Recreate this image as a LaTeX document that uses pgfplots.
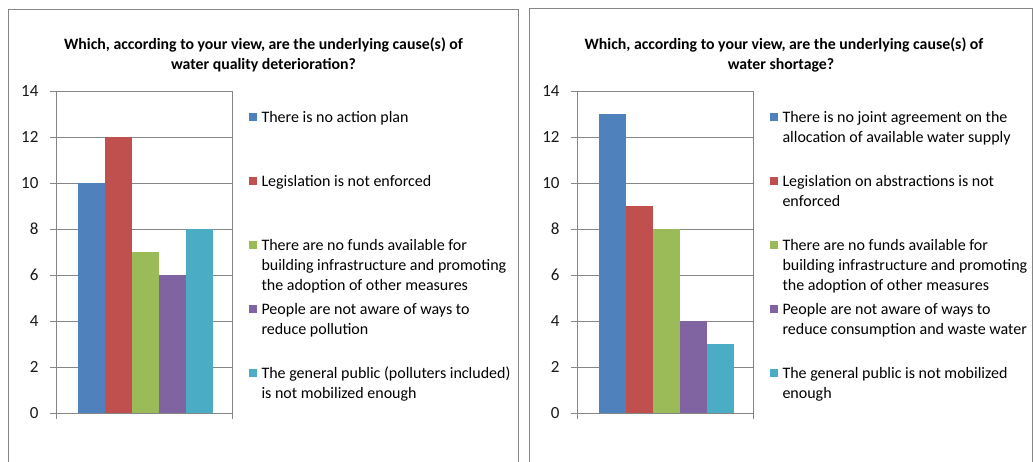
\documentclass[border=0pt]{standalone}
\usepackage{fontspec}
\setmainfont{Carlito}
\usepackage{pgfplots}
\pgfplotsset{compat=1.18}
\definecolor{c1}{HTML}{4F81BD}
\definecolor{c2}{HTML}{C0504D}
\definecolor{c3}{HTML}{9BBB59}
\definecolor{c4}{HTML}{8064A2}
\definecolor{c5}{HTML}{4BACC6}
\definecolor{axgray}{RGB}{134,134,134}
\pgfplotsset{
 panel/.style={
  scale only axis, width=176bp, height=322bp,
  xmin=-88, xmax=88, ymin=0, ymax=14,
  ytick={0,2,...,14}, xtick={-88,88}, xticklabels={},
  ymajorgrids, grid style={axgray, line width=0.8bp},
  axis line style={axgray, line width=0.8bp},
  tick style={axgray, line width=0.8bp},
  major tick length=6bp,
  tick align=outside, xtick pos=bottom, ytick pos=left,
  ybar=0pt, bar width=27bp,
  /pgf/number format/assume math mode=true,
  yticklabel style={font=\fontsize{17bp}{19bp}\selectfont, text=black!90, xshift=-8bp},
  legend style={draw=none, fill=none, inner sep=0pt, outer sep=0pt,
    at={(1.0966,0.9307)}, anchor=north west, row sep=54.5bp, column sep=4.5bp,
    font=\fontsize{16bp}{20bp}\selectfont,
    nodes={inner sep=0pt, text height=0pt, text depth=0pt}},
  legend cell align=left,
 },
 sq/.style={draw=none, legend image code/.code={\fill[##1,draw=none] (0bp,1.5bp) rectangle (8bp,9bp);}},
}
\newcommand{\lt}[1]{\parbox[t]{270bp}{\raggedright #1}}
\begin{document}
\begin{tikzpicture}[x=1bp,y=1bp]
\useasboundingbox (0,0) rectangle (1033,462);
\fill[white] (0,0) rectangle (1033,462);
\draw[axgray, line width=0.8bp] (8,-2) -- (8,453) -- (518,453) -- (518,-2);
\draw[axgray, line width=0.8bp] (529,-2) -- (529,454) -- (1032.5,454) -- (1032.5,-2);
\begin{scope}[font=\bfseries\fontsize{15.8bp}{18bp}\selectfont]
\node[anchor=base] at (263.5,412) {Which, according to your view, are the underlying cause(s) of};
\node[anchor=base] at (263.5,392) {water quality deterioration?};
\node[anchor=base] at (784,412) {Which, according to your view, are the underlying cause(s) of};
\node[anchor=base] at (781,392) {water shortage?};
\end{scope}
\begin{axis}[panel, at={(56bp,49bp)}, anchor=south west]
\addplot[fill=c1, sq] coordinates {(1.5,10)};
\addlegendentry{\lt{There is no action plan}}
\addplot[fill=c2, sq] coordinates {(1.5,12)};
\addlegendentry{\lt{Legislation is not enforced}}
\addplot[fill=c3, sq] coordinates {(1.5,7)};
\addlegendentry{\lt{There are no funds available for\\building infrastructure and promoting\\the adoption of other measures}}
\addplot[fill=c4, sq] coordinates {(1.5,6)};
\addlegendentry{\lt{People are not aware of ways to\\reduce pollution}}
\addplot[fill=c5, sq] coordinates {(1.5,8)};
\addlegendentry{\lt{The general public (polluters included)\\is not mobilized enough}}
\end{axis}
\begin{axis}[panel, at={(577bp,49bp)}, anchor=south west]
\addplot[fill=c1, sq] coordinates {(1,13)};
\addlegendentry{\lt{There is no joint agreement on the\\allocation of available water supply}}
\addplot[fill=c2, sq] coordinates {(1,9)};
\addlegendentry{\lt{Legislation on abstractions is not\\enforced}}
\addplot[fill=c3, sq] coordinates {(1,8)};
\addlegendentry{\lt{There are no funds available for\\building infrastructure and promoting\\the adoption of other measures}}
\addplot[fill=c4, sq] coordinates {(1,4)};
\addlegendentry{\lt{People are not aware of ways to\\reduce consumption and waste water}}
\addplot[fill=c5, sq] coordinates {(1,3)};
\addlegendentry{\lt{The general public is not mobilized\\enough}}
\end{axis}
\end{tikzpicture}
\end{document}
